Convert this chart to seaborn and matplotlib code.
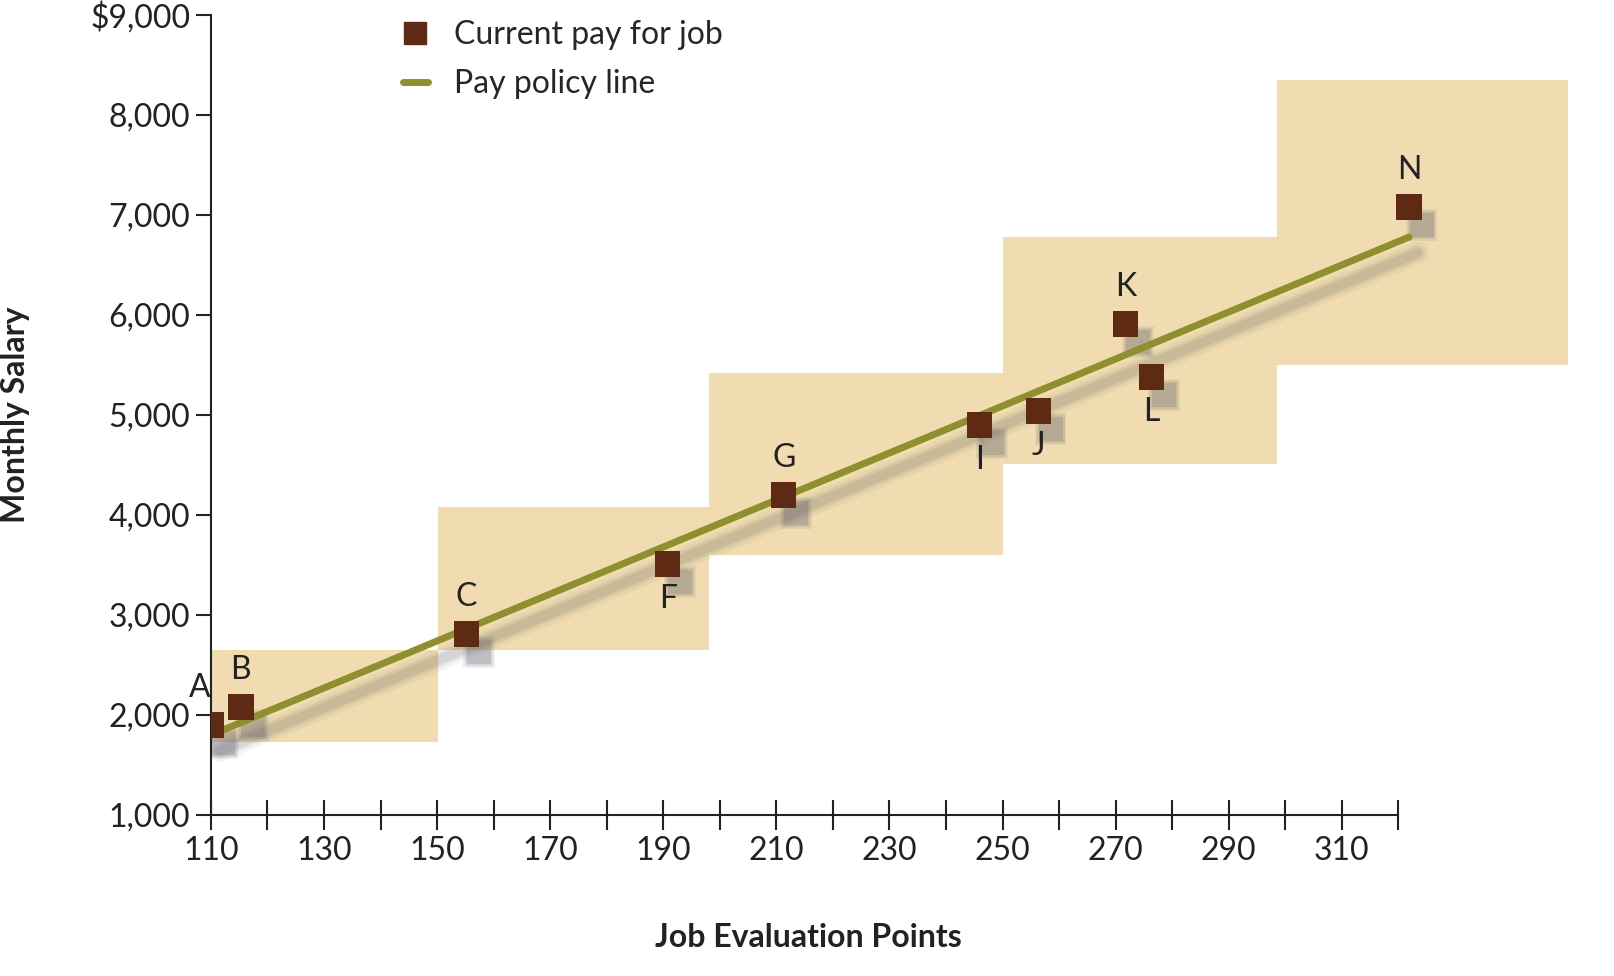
import matplotlib
matplotlib.use("Agg")
import matplotlib.pyplot as plt
import matplotlib.patches as mpatches
from matplotlib.lines import Line2D
import seaborn as sns
import pandas as pd
import numpy as np

jobs = ["A", "B", "C", "F", "G", "I", "J", "K", "L", "N"]
points = [110, 115.3, 155.2, 190.8, 211.3, 245.9, 256.3, 271.7, 276.3, 321.9]
salary = [1900, 2080, 2810, 3510, 4200, 4900, 5040, 5910, 5380, 7080]
label_pos = ["ul", "u", "u", "d", "u", "d", "d", "u", "d", "u"]

policy_x = [110, 321.9]
policy_y = [1800, 6780]

range_x0 = [110, 150.2, 198, 250, 298.5]
range_x1 = [150.2, 198, 250, 298.5, 350]
range_lo = [1730, 2650, 3600, 4510, 5500]
range_hi = [2650, 4080, 5420, 6780, 8350]

sns.set_theme(style="white")
plt.rcParams['font.family'] = ['Lato', 'DejaVu Sans']

fig = plt.figure(figsize=(16.14, 9.76), dpi=100)
ax = fig.add_axes([0.1307, 0.165, 0.8408, 0.8196])
box_c = "#F0DCB0"
for x0, x1, lo, hi in zip(range_x0, range_x1, range_lo, range_hi):
    ax.add_patch(mpatches.Rectangle((x0, lo), x1 - x0, hi - lo, color=box_c, lw=0, zorder=0))

df = pd.DataFrame({"x": points, "y": salary})
line_df = pd.DataFrame({"x": policy_x, "y": policy_y})
# soft shadows (layered)
for k, (lw, a) in enumerate([(16, 0.06), (11, 0.09), (7, 0.12)]):
    sns.lineplot(data=line_df.assign(x=line_df.x + 1.5, y=line_df.y - 160), x="x", y="y",
                 color="#555555", alpha=a, lw=lw, ax=ax, zorder=1)
    sns.scatterplot(data=df.assign(x=df.x + 2.2, y=df.y - 180), x="x", y="y", marker="s",
                    s=[520, 400, 300][k], color="#555566", alpha=a * 1.6, edgecolor="none",
                    ax=ax, zorder=2, legend=False)
sns.lineplot(data=line_df, x="x", y="y", color="#8E8F2E", lw=5, ax=ax, zorder=3)
sns.scatterplot(data=df, x="x", y="y", marker="s", s=330, color="#5E2A14",
                edgecolor="none", ax=ax, zorder=4)

for j, x, y, p in zip(jobs, points, salary, label_pos):
    if p == "u":
        ax.text(x, y + 220, j, ha="center", va="bottom", fontsize=23, color="#222")
    elif p == "ul":
        ax.text(x - 2, y + 220, j, ha="center", va="bottom", fontsize=23, color="#222")
    else:
        ax.text(x, y - 200, j, ha="center", va="top", fontsize=23, color="#222")

ax.set_xlim(110, 350)
ax.set_ylim(1000, 9000)
ax.set_xticks(np.arange(110, 321, 20))
ax.set_xticks(np.arange(120, 321, 20), minor=True)
ax.set_yticks(np.arange(1000, 9001, 1000))
ax.set_yticklabels([f"{v:,}" if v < 9000 else f"${v:,}" for v in range(1000, 9001, 1000)])
for s in ["top", "right"]:
    ax.spines[s].set_visible(False)
ax.spines["bottom"].set_bounds(110, 320)
for s in ["bottom", "left"]:
    ax.spines[s].set_color("#222")
    ax.spines[s].set_linewidth(1.5)
ax.tick_params(axis="x", which="both", bottom=True, direction="inout", length=22, width=1.5,
               color="#222", labelsize=23, labelcolor="#222", pad=4)
ax.tick_params(axis="y", left=True, direction="out", length=11, width=1.5, color="#222",
               labelsize=23, labelcolor="#222", pad=4)
ax.set_xlabel("Job Evaluation Points", fontsize=23, fontweight="bold", color="#222")
ax.set_ylabel("Monthly Salary", fontsize=23, fontweight="bold", color="#222")
ax.xaxis.set_label_coords(0.44, -0.135)
ax.yaxis.set_label_coords(-0.133, 0.5)

handles = [Line2D([], [], marker="s", ls="none", color="#5E2A14", markersize=16),
           Line2D([], [], color="#8E8F2E", lw=5)]
ax.legend(handles, ["Current pay for job", "Pay policy line"], loc="upper left",
          bbox_to_anchor=(0.12, 1.03), frameon=False, fontsize=23, handlelength=0.8,
          labelspacing=0.6)
fig.savefig("out.png", dpi=100)
